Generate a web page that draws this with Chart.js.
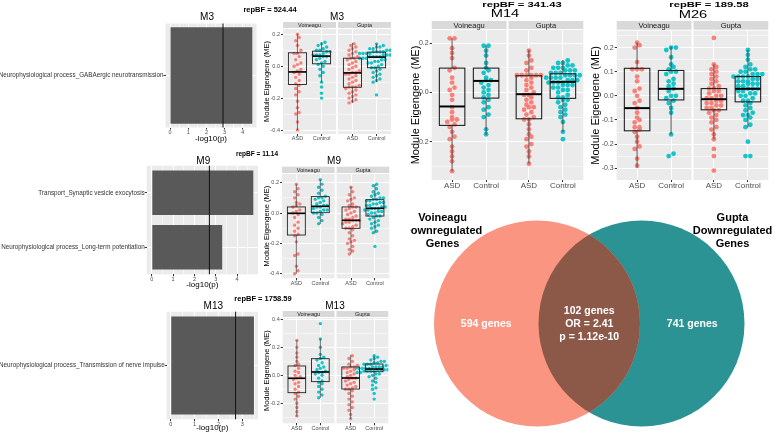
<!DOCTYPE html>
<html>
<head>
<meta charset="utf-8">
<script src="https://cdn.jsdelivr.net/npm/chart.js"></script>
<style>
  body { margin: 0; width: 774px; height: 433px; position: relative; overflow: hidden; background: #fff; font-family: "Liberation Sans", Arial, sans-serif; }
  .bf { position: absolute; font-weight: bold; white-space: nowrap; color: #000; line-height: 1; }
</style>
</head>
<body>
<script>
var FONT = '"Liberation Sans", Arial, sans-serif';
Chart.defaults.font.family = FONT;

var groupLabels = ['ASD', 'Control'];
var facetLabels = ['Voineagu', 'Gupta'];

// enrichment bars, -log10(p)
var m3Terms = ['Neurophysiological process_GABAergic neurotransmission'];
var m3LogP = [4.52];
var m3Cutoff = 2.91;
var m9Terms = ['Transport_Synaptic vesicle exocytosis', 'Neurophysiological process_Long-term potentiation'];
var m9LogP = [4.76, 3.30];
var m9Cutoff = 2.70;
var m13Terms = ['Neurophysiological process_Transmission of nerve impulse'];
var m13LogP = [3.49];
var m13Cutoff = 2.72;

var repBF = { M3: '524.44', M9: '11.14', M13: '1758.59', M14: '341.43', M26: '189.58' };

// module eigengene values per group (Voineagu ASD, Voineagu Control, Gupta ASD, Gupta Control)
var m3VoiAsd = [0.20, 0.18, 0.16, 0.13, 0.10, 0.08, 0.08, 0.06, 0.04, 0.02, 0.01, 0.00, -0.02, -0.03, -0.04, -0.05, -0.07, -0.09, -0.11, -0.12, -0.14, -0.16, -0.18, -0.22, -0.26, -0.29, -0.30, -0.35, -0.40];
var m3VoiCtl = [0.15, 0.14, 0.13, 0.12, 0.11, 0.10, 0.10, 0.09, 0.09, 0.08, 0.07, 0.07, 0.07, 0.06, 0.06, 0.05, 0.04, 0.03, 0.02, 0.01, 0.00, -0.02, -0.04, -0.06, -0.10, -0.13, -0.17, -0.20];
var m3GupAsd = [0.14, 0.13, 0.12, 0.11, 0.10, 0.09, 0.08, 0.07, 0.06, 0.05, 0.05, 0.04, 0.03, 0.02, 0.01, 0.00, -0.01, -0.02, -0.03, -0.04, -0.04, -0.05, -0.05, -0.06, -0.07, -0.08, -0.09, -0.10, -0.11, -0.12, -0.13, -0.13, -0.13, -0.14, -0.15, -0.16, -0.17, -0.18, -0.19, -0.20, -0.21, -0.22, -0.23];
var m3GupCtl = [0.14, 0.13, 0.12, 0.12, 0.11, 0.11, 0.10, 0.10, 0.10, 0.09, 0.09, 0.09, 0.09, 0.08, 0.08, 0.08, 0.08, 0.07, 0.07, 0.07, 0.07, 0.06, 0.06, 0.06, 0.06, 0.05, 0.05, 0.05, 0.04, 0.04, 0.03, 0.03, 0.02, 0.02, 0.01, 0.00, -0.01, -0.01, -0.02, -0.03, -0.04, -0.05, -0.06, -0.07, -0.08, -0.09, -0.10, -0.18];

var m9VoiAsd = [0.19, 0.16, 0.14, 0.12, 0.10, 0.07, 0.06, 0.05, 0.04, 0.02, 0.01, 0.00, -0.01, -0.03, -0.06, -0.08, -0.10, -0.12, -0.14, -0.15, -0.19, -0.27, -0.28, -0.35, -0.38, -0.40];
var m9VoiCtl = [0.22, 0.19, 0.17, 0.15, 0.13, 0.11, 0.10, 0.10, 0.09, 0.08, 0.07, 0.06, 0.05, 0.05, 0.04, 0.04, 0.03, 0.02, 0.02, 0.01, 0.00, 0.00, -0.01, -0.03, -0.05, -0.07];
var m9GupAsd = [0.17, 0.14, 0.12, 0.10, 0.09, 0.08, 0.06, 0.05, 0.04, 0.04, 0.03, 0.02, 0.01, 0.00, -0.01, -0.02, -0.03, -0.04, -0.04, -0.05, -0.05, -0.05, -0.06, -0.06, -0.07, -0.08, -0.09, -0.10, -0.10, -0.11, -0.13, -0.15, -0.17, -0.18, -0.19, -0.20, -0.22, -0.24, -0.25, -0.27];
var m9GupCtl = [0.19, 0.18, 0.16, 0.14, 0.13, 0.12, 0.11, 0.10, 0.10, 0.09, 0.09, 0.08, 0.08, 0.07, 0.07, 0.06, 0.06, 0.05, 0.05, 0.04, 0.04, 0.03, 0.03, 0.03, 0.02, 0.02, 0.01, 0.01, 0.00, 0.00, -0.01, -0.02, -0.02, -0.03, -0.04, -0.05, -0.06, -0.07, -0.08, -0.09, -0.10, -0.12, -0.13, -0.22];

var m13VoiAsd = [0.25, 0.20, 0.16, 0.13, 0.10, 0.08, 0.07, 0.05, 0.03, 0.02, 0.00, -0.01, -0.02, -0.03, -0.05, -0.06, -0.08, -0.10, -0.12, -0.13, -0.15, -0.17, -0.20, -0.23, -0.26, -0.29];
var m13VoiCtl = [0.37, 0.26, 0.20, 0.15, 0.13, 0.12, 0.11, 0.09, 0.07, 0.06, 0.05, 0.04, 0.03, 0.02, 0.02, 0.01, 0.00, -0.02, -0.04, -0.05, -0.06, -0.08, -0.10, -0.12, -0.14, -0.16];
var m13GupAsd = [0.14, 0.12, 0.10, 0.08, 0.07, 0.06, 0.06, 0.05, 0.05, 0.04, 0.03, 0.02, 0.01, 0.00, -0.01, -0.02, -0.02, -0.03, -0.04, -0.05, -0.06, -0.07, -0.08, -0.09, -0.10, -0.10, -0.11, -0.13, -0.15, -0.17, -0.19, -0.21, -0.23, -0.25, -0.28, -0.31];
var m13GupCtl = [0.14, 0.13, 0.12, 0.11, 0.10, 0.10, 0.09, 0.09, 0.08, 0.08, 0.08, 0.07, 0.07, 0.07, 0.06, 0.06, 0.06, 0.06, 0.05, 0.05, 0.05, 0.05, 0.05, 0.04, 0.04, 0.04, 0.04, 0.04, 0.03, 0.03, 0.03, 0.03, 0.02, 0.02, 0.01, 0.01, 0.00, -0.01, -0.02, -0.04, -0.05, -0.07, -0.09, -0.10, -0.13, -0.17];

var m14VoiAsd = [0.22, 0.22, 0.18, 0.16, 0.14, 0.10, 0.09, 0.06, 0.04, 0.02, 0.01, -0.01, -0.03, -0.06, -0.08, -0.10, -0.11, -0.11, -0.12, -0.13, -0.14, -0.16, -0.18, -0.19, -0.22, -0.24, -0.26, -0.28, -0.32];
var m14VoiCtl = [0.19, 0.19, 0.17, 0.15, 0.12, 0.10, 0.09, 0.08, 0.06, 0.05, 0.05, 0.04, 0.03, 0.02, 0.01, 0.00, -0.01, -0.02, -0.03, -0.04, -0.06, -0.07, -0.09, -0.10, -0.15, -0.17];
var m14GupAsd = [0.17, 0.15, 0.13, 0.12, 0.10, 0.09, 0.07, 0.07, 0.07, 0.07, 0.07, 0.07, 0.06, 0.05, 0.04, 0.03, 0.02, 0.01, 0.00, -0.01, -0.01, -0.02, -0.03, -0.04, -0.05, -0.06, -0.06, -0.07, -0.08, -0.09, -0.10, -0.11, -0.11, -0.13, -0.15, -0.17, -0.18, -0.19, -0.21, -0.22, -0.24, -0.26, -0.29];
var m14GupCtl = [0.13, 0.12, 0.12, 0.11, 0.11, 0.10, 0.10, 0.10, 0.09, 0.09, 0.09, 0.08, 0.08, 0.08, 0.07, 0.07, 0.07, 0.07, 0.06, 0.06, 0.06, 0.06, 0.05, 0.05, 0.05, 0.04, 0.04, 0.04, 0.04, 0.03, 0.03, 0.03, 0.02, 0.02, 0.01, 0.01, 0.00, -0.01, -0.02, -0.02, -0.03, -0.03, -0.04, -0.05, -0.06, -0.07, -0.08, -0.09, -0.10, -0.12, -0.16, -0.19];

var m26VoiAsd = [0.22, 0.21, 0.20, 0.14, 0.11, 0.11, 0.11, 0.08, 0.06, 0.03, 0.02, 0.00, -0.02, -0.03, -0.05, -0.07, -0.09, -0.10, -0.11, -0.13, -0.13, -0.14, -0.15, -0.17, -0.19, -0.21, -0.22, -0.26, -0.29];
var m26VoiCtl = [0.20, 0.20, 0.19, 0.16, 0.13, 0.12, 0.11, 0.10, 0.10, 0.09, 0.07, 0.06, 0.05, 0.04, 0.03, 0.02, 0.00, 0.00, -0.01, -0.02, -0.03, -0.05, -0.07, -0.16, -0.24, -0.25];
var m26GupAsd = [0.24, 0.13, 0.12, 0.11, 0.10, 0.09, 0.08, 0.07, 0.06, 0.05, 0.04, 0.03, 0.03, 0.02, 0.02, 0.01, 0.00, 0.00, -0.01, -0.01, -0.02, -0.02, -0.03, -0.03, -0.04, -0.04, -0.05, -0.05, -0.06, -0.06, -0.07, -0.08, -0.09, -0.10, -0.11, -0.13, -0.14, -0.16, -0.18, -0.22, -0.25, -0.31];
var m26GupCtl = [0.19, 0.17, 0.15, 0.13, 0.12, 0.11, 0.11, 0.10, 0.10, 0.09, 0.09, 0.09, 0.08, 0.08, 0.08, 0.08, 0.07, 0.07, 0.06, 0.06, 0.06, 0.05, 0.05, 0.05, 0.04, 0.04, 0.03, 0.03, 0.03, 0.02, 0.02, 0.01, 0.01, 0.00, 0.00, -0.01, -0.02, -0.02, -0.03, -0.04, -0.05, -0.06, -0.07, -0.08, -0.08, -0.09, -0.10, -0.12, -0.13, -0.19, -0.25, -0.25];

// box stats: [lower whisker, q1, median, q3, upper whisker]
var m3Boxes = [[-0.40, -0.115, -0.036, 0.084, 0.20], [-0.10, 0.015, 0.063, 0.094, 0.15], [-0.23, -0.132, -0.042, 0.05, 0.147], [-0.10, -0.01, 0.057, 0.088, 0.14]];
var m9Boxes = [[-0.40, -0.145, -0.002, 0.04, 0.19], [-0.073, 0.002, 0.044, 0.108, 0.22], [-0.27, -0.101, -0.048, 0.04, 0.174], [-0.134, -0.02, 0.031, 0.088, 0.189]];
var m13Boxes = [[-0.295, -0.124, -0.021, 0.067, 0.252], [-0.16, -0.045, 0.024, 0.119, 0.26], [-0.312, -0.098, -0.019, 0.06, 0.145], [-0.05, 0.026, 0.045, 0.081, 0.14]];
var m14Boxes = [[-0.32, -0.134, -0.057, 0.099, 0.22], [-0.172, -0.023, 0.047, 0.099, 0.19], [-0.289, -0.107, -0.007, 0.068, 0.173], [-0.16, -0.024, 0.043, 0.076, 0.132]];
var m26Boxes = [[-0.297, -0.145, -0.051, 0.114, 0.221], [-0.16, -0.017, 0.029, 0.105, 0.204], [-0.18, -0.058, -0.014, 0.030, 0.13], [-0.13, -0.025, 0.029, 0.080, 0.19]];

// venn
var vennNames = [['Voineagu', 'Downregulated', 'Genes'], ['Gupta', 'Downregulated', 'Genes']];
var vennOnly = [594, 741];
var vennShared = 102;
var vennOR = '2.41';
var vennP = '1.12e-10';

function canvasAt(x, y, w, h) {
  var c = document.createElement('canvas');
  c.width = w; c.height = h;
  c.style.cssText = 'position:absolute;left:' + x + 'px;top:' + y + 'px;width:' + w + 'px;height:' + h + 'px';
  document.body.appendChild(c);
  return c.getContext('2d');
}

function bfLabel(text, x, y, size, sx) {
  var d = document.createElement('div');
  d.className = 'bf';
  d.textContent = 'repBF = ' + text;
  d.style.left = x + 'px';
  d.style.top = y + 'px';
  d.style.fontSize = size + 'px';
  d.style.transform = 'translate(-50%,-50%) scaleX(' + (sx || 1) + ')';
  document.body.appendChild(d);
}

function stretchText(ctx, text, x, y, sx) {
  ctx.save();
  ctx.translate(x, y);
  ctx.scale(sx || 1, 1);
  ctx.fillText(text, 0, 0);
  ctx.restore();
}

// ticks every half step between min and max (major = whole steps)
function halfTicks(min, max, step) {
  var h = step / 2, t = [];
  for (var k = Math.ceil(min / h - 1e-9); k * h <= max + 1e-9; k++) t.push({ value: +(k * h).toFixed(4) });
  return t;
}

// dotplot-style stacking: values falling in the same bin are spread sideways
function swarm(vals, x0, dx, bw) {
  var s = vals.slice().sort(function (a, b) { return a - b; });
  var pts = [];
  var i = 0;
  while (i < s.length) {
    var j = i;
    while (j < s.length && s[j] - s[i] < bw - 1e-9) j++;
    var k = j - i;
    for (var m = 0; m < k; m++) pts.push({ x: x0 + (m - (k - 1) / 2) * dx, y: s[i + m] });
    i = j;
  }
  return pts;
}

function boxPanel(o) {
  var p = o.plot;
  var gap = 2 * 4.4 / (p.r - p.l - 2);
  var xMax = 4.8 + gap;
  var xs = [1, 2, 3.2 + gap, 4.2 + gap];
  var dx = 2 * o.dotR * (xMax - 0.4) / (p.r - p.l);
  var bw = 2 * o.dotR * (o.yMax - o.yMin) / (p.b - p.t);
  var isMajor = function (v) { return Math.abs(v / o.step - Math.round(v / o.step)) < 1e-4; };
  var colors = ['rgba(248,118,109,0.9)', 'rgba(0,191,196,0.9)'];
  var datasets = o.groups.map(function (vals, i) {
    return { data: swarm(vals, xs[i], dx, bw), backgroundColor: colors[i % 2], pointRadius: o.dotR, pointBorderWidth: 0 };
  });
  var decor = {
    id: 'decor',
    beforeDraw: function (chart) {
      var ctx = chart.ctx, a = chart.chartArea, x = chart.scales.x;
      var st = o.stripTop - o.cy;
      ctx.save();
      [[0.4, 2.6], [2.6 + gap, xMax]].forEach(function (b, i) {
        var l = x.getPixelForValue(b[0]), r = x.getPixelForValue(b[1]);
        ctx.fillStyle = '#EBEBEB';
        ctx.fillRect(l, a.top, r - l, a.bottom - a.top);
        ctx.fillStyle = '#D9D9D9';
        ctx.fillRect(l, st, r - l, a.top - 1 - st);
        ctx.fillStyle = '#1A1A1A';
        ctx.font = o.stripFont + 'px ' + FONT;
        ctx.textAlign = 'center';
        ctx.textBaseline = 'middle';
        ctx.fillText(facetLabels[i], (l + r) / 2, (st + a.top - 1) / 2 + 0.5);
      });
      ctx.fillStyle = '#000';
      ctx.font = o.titleFont + 'px ' + FONT;
      ctx.textAlign = 'center';
      ctx.textBaseline = 'middle';
      stretchText(ctx, o.title, o.titleX - o.cx, o.titleY - o.cy, o.titleSx);
      ctx.restore();
    },
    afterDatasetsDraw: function (chart) {
      var ctx = chart.ctx, x = chart.scales.x, y = chart.scales.y;
      ctx.save();
      o.boxes.forEach(function (b, i) {
        var c = x.getPixelForValue(xs[i]);
        var hw = x.getPixelForValue(xs[i] + 0.375) - c;
        var py = b.map(function (v) { return y.getPixelForValue(v); });
        ctx.strokeStyle = '#3a3a3a';
        ctx.lineWidth = o.lw * 0.8;
        ctx.beginPath();
        ctx.moveTo(c, py[0]); ctx.lineTo(c, py[1]);
        ctx.moveTo(c, py[3]); ctx.lineTo(c, py[4]);
        ctx.stroke();
        ctx.lineWidth = o.lw;
        ctx.strokeStyle = '#222';
        ctx.strokeRect(c - hw, py[3], 2 * hw, py[1] - py[3]);
        ctx.strokeStyle = '#000';
        ctx.lineWidth = o.lw * 1.8;
        ctx.beginPath();
        ctx.moveTo(c - hw, py[2]); ctx.lineTo(c + hw, py[2]);
        ctx.stroke();
      });
      ctx.restore();
    }
  };
  new Chart(canvasAt(o.cx, o.cy, o.cw, o.ch), {
    type: 'scatter',
    data: { datasets: datasets },
    options: {
      responsive: false, animation: false, events: [],
      layout: { autoPadding: false, padding: { top: p.t - o.cy, right: o.cx + o.cw - p.r, bottom: o.cy + o.ch - p.b - o.axisH, left: 0 } },
      plugins: { legend: { display: false }, tooltip: { enabled: false } },
      scales: {
        x: {
          min: 0.4, max: xMax,
          afterBuildTicks: function (s) { s.ticks = xs.map(function (v) { return { value: v }; }); },
          afterFit: function (s) { s.height = o.axisH; },
          border: { display: false },
          grid: { color: '#fff', lineWidth: 1, tickLength: 2, tickColor: '#333' },
          ticks: { autoSkip: false, maxRotation: 0, padding: 0, color: '#4D4D4D',
            font: { size: o.xFont, lineHeight: 1 },
            callback: function (v, i) { return groupLabels[i % 2]; } }
        },
        y: {
          min: o.yMin, max: o.yMax,
          afterBuildTicks: function (s) { s.ticks = halfTicks(o.yMin, o.yMax, o.step); },
          afterFit: function (s) { s.width = p.l - o.cx; },
          border: { display: false },
          grid: { color: '#fff', tickLength: 2,
            lineWidth: function (c) { return isMajor(c.tick.value) ? 1 : 0.5; },
            tickColor: function (c) { return isMajor(c.tick.value) ? '#333' : 'rgba(0,0,0,0)'; } },
          ticks: { autoSkip: false, padding: 1, color: '#4D4D4D',
            font: { size: o.yFont, lineHeight: 1 },
            callback: function (v) { return isMajor(v) ? v.toFixed(1) : ''; } },
          title: { display: true, text: 'Module Eigengene (ME)', color: '#000',
            font: { size: o.yTitleFont, lineHeight: 1 }, padding: { top: o.yTitlePad, bottom: 0 } }
        }
      }
    },
    plugins: [decor]
  });
}

function barPanel(o) {
  var p = o.plot;
  var isMajor = function (v) { return Math.abs(v - Math.round(v)) < 1e-4; };
  var deco = {
    id: 'deco',
    beforeDraw: function (chart) {
      var ctx = chart.ctx, a = chart.chartArea;
      ctx.save();
      ctx.fillStyle = '#EBEBEB';
      ctx.fillRect(a.left, a.top, a.right - a.left, a.bottom - a.top);
      ctx.fillStyle = '#000';
      ctx.font = '10px ' + FONT;
      ctx.textAlign = 'center';
      ctx.textBaseline = 'middle';
      ctx.fillText(o.title, o.titleX - o.cx, o.titleY - o.cy);
      ctx.restore();
    },
    afterDatasetsDraw: function (chart) {
      var ctx = chart.ctx, a = chart.chartArea;
      var x = chart.scales.x.getPixelForValue(o.cutoff);
      ctx.save();
      ctx.strokeStyle = '#111';
      ctx.lineWidth = 1;
      ctx.beginPath();
      ctx.moveTo(x, a.top); ctx.lineTo(x, a.bottom);
      ctx.stroke();
      ctx.restore();
    }
  };
  new Chart(canvasAt(o.cx, o.cy, o.cw, o.ch), {
    type: 'bar',
    data: { labels: o.terms, datasets: [{ data: o.values, backgroundColor: '#595959', categoryPercentage: 1, barPercentage: o.barPct }] },
    options: {
      indexAxis: 'y', responsive: false, animation: false, events: [],
      layout: { autoPadding: false, padding: { top: p.t - o.cy, right: o.cx + o.cw - p.r, bottom: o.cy + o.ch - p.b - o.axisH, left: 0 } },
      plugins: { legend: { display: false }, tooltip: { enabled: false } },
      scales: {
        x: {
          min: o.xMin, max: o.xMax,
          afterBuildTicks: function (s) { s.ticks = halfTicks(o.xMin, o.xMax, 1); },
          afterFit: function (s) { s.height = o.axisH; },
          border: { display: false },
          grid: { color: '#fff', tickLength: 2,
            lineWidth: function (c) { return isMajor(c.tick.value) ? 1 : 0.5; },
            tickColor: function (c) { return isMajor(c.tick.value) ? '#333' : 'rgba(0,0,0,0)'; } },
          ticks: { autoSkip: false, maxRotation: 0, padding: 0, color: '#4D4D4D',
            font: { size: 5.5, lineHeight: 1 },
            callback: function (v) { return isMajor(v) ? String(Math.round(v)) : ''; } },
          title: { display: true, text: '-log10(p)', color: '#000', font: { size: 8, lineHeight: 1 }, padding: 0 }
        },
        y: {
          afterFit: function (s) { s.width = p.l - o.cx; },
          border: { display: false },
          grid: { offset: false, color: '#fff', lineWidth: 1, tickLength: 2, tickColor: '#333' },
          ticks: { autoSkip: false, padding: 0, color: '#333', font: { size: 6.3, lineHeight: 1 } }
        }
      }
    },
    plugins: [deco]
  });
}

barPanel({ cx: 0, cy: 0, cw: 259, ch: 145, plot: { l: 165.5, t: 23.5, r: 256.5, b: 127.5 }, axisH: 15.5,
  xMin: -0.25, xMax: 4.75, terms: m3Terms, values: m3LogP, cutoff: m3Cutoff, barPct: 0.93,
  title: 'M3', titleX: 207, titleY: 17 });
barPanel({ cx: 0, cy: 145, cw: 259, ch: 145, plot: { l: 146.7, t: 165.7, r: 258, b: 274.3 }, axisH: 14.7,
  xMin: -0.24, xMax: 4.98, terms: m9Terms, values: m9LogP, cutoff: m9Cutoff, barPct: 0.82,
  title: 'M9', titleX: 203.3, titleY: 161.7 });
barPanel({ cx: 0, cy: 290, cw: 259, ch: 143, plot: { l: 166.7, t: 311.7, r: 258, b: 419.3 }, axisH: 12,
  xMin: -0.17, xMax: 3.66, terms: m13Terms, values: m13LogP, cutoff: m13Cutoff, barPct: 0.91,
  title: 'M13', titleX: 213.3, titleY: 306 });

var smallStyle = { dotR: 1.7, lw: 0.9, xFont: 5.5, yFont: 5.5, stripFont: 5.5, titleFont: 10, titleSx: 1, yTitleFont: 7.5, yTitlePad: 3, axisH: 9.5 };
var bigStyle = { dotR: 2.4, lw: 1.1, xFont: 8, yFont: 7, stripFont: 7.5, titleFont: 10.5, titleSx: 1.4, yTitleFont: 11, yTitlePad: 0.5, axisH: 12 };

boxPanel(Object.assign({}, smallStyle, { cx: 260, cy: 0, cw: 138, ch: 145, plot: { l: 283, t: 29, r: 391, b: 134 },
  yMin: -0.425, yMax: 0.233, step: 0.2, title: 'M3', titleX: 337, titleY: 17, stripTop: 22,
  groups: [m3VoiAsd, m3VoiCtl, m3GupAsd, m3GupCtl], boxes: m3Boxes }));
boxPanel(Object.assign({}, smallStyle, { cx: 260, cy: 145, cw: 138, ch: 145, plot: { l: 282, t: 174, r: 389.3, b: 278.3 },
  yMin: -0.43, yMax: 0.257, step: 0.2, title: 'M9', titleX: 334, titleY: 161.7, stripTop: 166.7,
  groups: [m9VoiAsd, m9VoiCtl, m9GupAsd, m9GupCtl], boxes: m9Boxes }));
boxPanel(Object.assign({}, smallStyle, { cx: 260, cy: 290, cw: 138, ch: 143, plot: { l: 282.7, t: 318, r: 388.3, b: 423.3 },
  yMin: -0.343, yMax: 0.41, step: 0.2, title: 'M13', titleX: 335, titleY: 306, stripTop: 311,
  groups: [m13VoiAsd, m13VoiCtl, m13GupAsd, m13GupCtl], boxes: m13Boxes }));
boxPanel(Object.assign({}, bigStyle, { cx: 410, cy: 0, cw: 177, ch: 195, plot: { l: 431.7, t: 30, r: 583.3, b: 180 },
  yMin: -0.356, yMax: 0.254, step: 0.2, title: 'M14', titleX: 505, titleY: 14, stripTop: 21,
  groups: [m14VoiAsd, m14VoiCtl, m14GupAsd, m14GupCtl], boxes: m14Boxes }));
boxPanel(Object.assign({}, bigStyle, { cx: 590, cy: 0, cw: 184, ch: 195, plot: { l: 616.7, t: 30.7, r: 768.3, b: 180 },
  yMin: -0.349, yMax: 0.27, step: 0.1, title: 'M26', titleX: 693, titleY: 14.7, stripTop: 21,
  groups: [m26VoiAsd, m26VoiCtl, m26GupAsd, m26GupCtl], boxes: m26Boxes }));

bfLabel(repBF.M3, 270, 10, 7.5);
bfLabel(repBF.M9, 257, 154.3, 6.5);
bfLabel(repBF.M13, 263, 299.3, 7.5);
bfLabel(repBF.M14, 522, 4.5, 8, 1.4);
bfLabel(repBF.M26, 709, 4.5, 8, 1.4);

// venn diagram: two bubbles, overlap painted on top
var vennDeco = {
  id: 'vennDeco',
  afterDatasetsDraw: function (chart) {
    var ctx = chart.ctx;
    var a = chart.getDatasetMeta(0).data[0], b = chart.getDatasetMeta(1).data[0];
    var ra = a.options.radius, rb = b.options.radius;
    ctx.save();
    ctx.beginPath();
    ctx.arc(a.x, a.y, ra, 0, Math.PI * 2);
    ctx.clip();
    ctx.fillStyle = '#8C5949';
    ctx.beginPath();
    ctx.arc(b.x, b.y, rb, 0, Math.PI * 2);
    ctx.fill();
    ctx.restore();

    ctx.save();
    ctx.textAlign = 'center';
    ctx.textBaseline = 'middle';
    ctx.font = 'bold 10.5px ' + FONT;
    ctx.fillStyle = '#fff';
    var lensL = b.x - rb, lensR = a.x + ra;
    ctx.fillText(vennOnly[0] + ' genes', (a.x - ra + lensL) / 2, a.y + 0.5);
    ctx.fillText(vennOnly[1] + ' genes', (lensR + b.x + rb) / 2, b.y + 0.5);
    var mx = (lensL + lensR) / 2;
    ctx.fillText(vennShared + ' genes', mx, a.y - 12.8);
    ctx.fillText('OR = ' + vennOR, mx, a.y + 0.5);
    ctx.fillText('p = ' + vennP, mx, a.y + 13.2);
    ctx.fillStyle = '#000';
    ctx.font = 'bold 11px ' + FONT;
    vennNames[0].forEach(function (t, i) { ctx.fillText(t, a.x - ra + 8.5, a.y - ra - 2.5 + i * 13); });
    vennNames[1].forEach(function (t, i) { ctx.fillText(t, b.x + rb - 12, b.y - rb - 2.5 + i * 13); });
    ctx.restore();
  }
};

new Chart(canvasAt(410, 190, 364, 243), {
  type: 'bubble',
  data: { datasets: [
    { data: [{ x: 127, y: 133.5, r: 103 }], backgroundColor: '#FA9582', borderWidth: 0 },
    { data: [{ x: 231.5, y: 133.5, r: 103 }], backgroundColor: '#2B9393', borderWidth: 0 }
  ] },
  options: {
    responsive: false, animation: false, events: [],
    layout: { autoPadding: false, padding: 0 },
    plugins: { legend: { display: false }, tooltip: { enabled: false } },
    scales: {
      x: { display: false, min: 0, max: 364 },
      y: { display: false, min: 0, max: 243, reverse: true }
    }
  },
  plugins: [vennDeco]
});
</script>
</body>
</html>
